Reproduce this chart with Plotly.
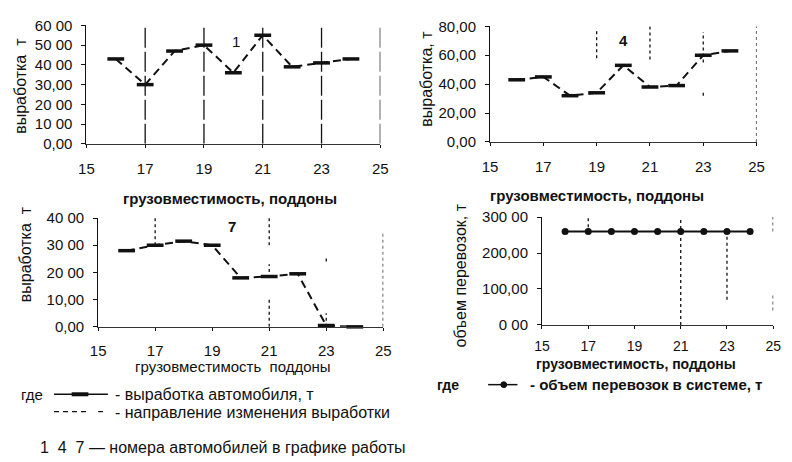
import plotly.graph_objects as go

# ---------------- data ----------------
capacity = [16, 17, 18, 19, 20, 21, 22, 23, 24]
output_car1 = [43, 30, 47, 50, 36, 55, 39, 41, 43]
output_car4 = [43, 45, 32, 34, 53, 38, 39, 60, 63]
output_car7 = [28, 30, 31.5, 30, 18, 18.5, 19.5, 0.5, 0]
volume_system = [260, 260, 260, 260, 260, 260, 260, 260, 260]

x_ticks = [15, 17, 19, 21, 23, 25]

yticks_1 = [0, 10, 20, 30, 40, 50, 60]
ytext_1 = ["0,00", "10 00", "20 00", "30,00", "40 00", "50 00", "60 00"]
yticks_4 = [0, 20, 40, 60, 80]
ytext_4 = ["0,00", "20,00", "40,00", "60,00", "80,00"]
yticks_7 = [0, 10, 20, 30, 40]
ytext_7 = ["0,00", "10,00", "20 00", "30 00", "40 00"]
yticks_v = [0, 100, 200, 300]
ytext_v = ["0 00", "100,00", "200,00", "300 00"]

# direction-of-change guide segments: (x, y_from, y_to)
guides_1 = [(17, 0, 60), (19, 0, 60), (21, 0, 60), (23, 0, 60), (25, 0, 60)]
guides_4 = [(19, 58, 78), (21, 57, 80), (23, 55, 76), (23, 32, 34), (25, 0, 80)]
guides_7 = [(17, 30, 40), (21, 30, 40), (21, 18, 23), (21, 0, 10),
            (23, 24, 26), (23, 0, 5), (25, 0, 35)]
guides_v = [(17, 255, 300), (21, 0, 300), (23, 70, 260), (25, 260, 300), (25, 40, 90)]

car_labels = ["1", "4", "7"]
car_label_x = [20.1, 20.0, 19.7]
car_label_y = [52, 70, 37]

# ---------------- figure ----------------
FONT = "Liberation Sans, Arial, sans-serif"
INK = "#111111"

fig = go.Figure()


def guide_trace(guides, xa, ya, dash):
    xs, ys = [], []
    for gx, g0, g1 in guides:
        xs += [gx, gx, None]
        ys += [g0, g1, None]
    return go.Scatter(x=xs, y=ys, mode="lines", xaxis=xa, yaxis=ya,
                      line=dict(color=INK, width=1.3, dash=dash),
                      hoverinfo="skip", showlegend=False)


def output_trace(vals, xa, ya):
    return go.Scatter(x=capacity, y=vals, mode="lines+markers", xaxis=xa, yaxis=ya,
                      line=dict(color=INK, width=2, dash="8px,5px"),
                      marker=dict(symbol="line-ew-open", size=12,
                                  line=dict(color=INK, width=3.5)),
                      cliponaxis=False, showlegend=False)


fig.add_trace(guide_trace(guides_1, "x", "y", "20px,4px"))
fig.add_trace(output_trace(output_car1, "x", "y"))
fig.add_trace(guide_trace(guides_4, "x2", "y2", "dot"))
fig.add_trace(output_trace(output_car4, "x2", "y2"))
fig.add_trace(guide_trace(guides_7, "x3", "y3", "dot"))
fig.add_trace(output_trace(output_car7, "x3", "y3"))
fig.add_trace(guide_trace(guides_v, "x4", "y4", "dot"))
fig.add_trace(go.Scatter(x=capacity, y=volume_system, mode="lines+markers",
                         xaxis="x4", yaxis="y4",
                         line=dict(color=INK, width=2),
                         marker=dict(symbol="circle", size=7, color=INK),
                         cliponaxis=False, showlegend=False))

W, H = 792, 462


def px(v):
    return v / W


def py(v):
    return 1 - v / H


panels = {
    # name: (x0, x1, ybottom, ytop in px, yrange, ticks, text, xtick size, standoff)
    "1": (80, 380, 140, 17, [0, 60], yticks_1, ytext_1, 15, 8),
    "2": (492, 764, 138, 18, [0, 80], yticks_4, ytext_4, 15, 8),
    "3": (92, 383, 330, 217, [0, 40], yticks_7, ytext_7, 15, 7),
    "4": (545, 781, 328, 216, [0, 300], yticks_v, ytext_v, 14, 5),
}

layout = dict(width=W, height=H, margin=dict(l=0, r=0, t=0, b=0),
              paper_bgcolor="white", plot_bgcolor="white",
              font=dict(family=FONT, color=INK), showlegend=False)

for k, (x0, x1, yb, yt, yr, tv, tt, xfs, xso) in panels.items():
    sx = "" if k == "1" else k
    layout["xaxis" + sx] = dict(domain=[px(x0), px(x1)], range=[15, 25],
                                anchor="y" + sx, tickvals=x_ticks,
                                ticks="outside", ticklen=3, tickcolor=INK,
                                showline=True, linecolor="#333333", linewidth=1,
                                showgrid=False, zeroline=False,
                                ticklabelstandoff=xso,
                                tickfont=dict(size=xfs, family=FONT, color=INK))
    layout["yaxis" + sx] = dict(domain=[py(yb), py(yt)], range=yr,
                                anchor="x" + sx, tickvals=tv, ticktext=tt,
                                ticks="outside", ticklen=4, tickcolor=INK,
                                showline=True, linecolor=INK, linewidth=1,
                                showgrid=False, zeroline=False,
                                ticklabelstandoff=6,
                                tickfont=dict(size=15, family=FONT, color=INK))

fig.update_layout(**layout)

ann = []


def text(x, y, s, size=13, angle=0, anchor="center", bold=False):
    ann.append(dict(x=px(x), y=py(y), xref="paper", yref="paper",
                    text=(f"<b>{s}</b>" if bold else s),
                    showarrow=False, textangle=angle, xanchor=anchor, yanchor="middle",
                    borderpad=0,
                    font=dict(size=size, family=FONT, color=INK)))


# axis titles
text(227, 197, "грузовместимость, поддоны", 15, bold=True)
text(601, 194, "грузовместимость, поддоны", 15, bold=True)
text(230, 371, "грузовместимость  поддоны", 15)
text(641, 369, "грузовместимость, поддоны", 14, bold=True)
text(12, 80, "выработка  т", 16, angle=-90)
text(427, 72, "выработка, т", 16, angle=-90)
text(18, 255, "выработка  т", 16, angle=-90)
text(462, 277, "объем перевозок, т", 16, angle=-90)

# car numbers inside panels
for i, (xa, ya) in enumerate([("x", "y"), ("x2", "y2"), ("x3", "y3")]):
    lab = car_labels[i] if i == 0 else "<b>" + car_labels[i] + "</b>"
    ann.append(dict(x=car_label_x[i], y=car_label_y[i], xref=xa, yref=ya, text=lab,
                    showarrow=False, font=dict(size=15, family=FONT, color=INK)))

# key / legend text
text(12, 400, "где", 15, anchor="left")
text(108, 400, "- выработка автомобиля, т", 16, anchor="left")
text(108, 419, "- направление изменения выработки", 16, anchor="left")
text(32, 455, "1  4  7 — номера автомобилей в графике работы", 16, anchor="left")
text(437, 390, "где", 14, anchor="left", bold=True)
text(532, 390, "- объем перевозок в системе, т", 15, anchor="left", bold=True)

fig.update_layout(annotations=ann)

# legend sample glyphs
shapes = [
    dict(type="line", xref="paper", yref="paper", x0=px(47), x1=px(102), y0=py(400), y1=py(400),
         line=dict(color=INK, width=1.5)),
    dict(type="line", xref="paper", yref="paper", x0=px(65), x1=px(82), y0=py(400), y1=py(400),
         line=dict(color=INK, width=4)),
    dict(type="line", xref="paper", yref="paper", x0=px(47), x1=px(80), y0=py(418), y1=py(418),
         line=dict(color=INK, width=1.2, dash="5px,4px")),
    dict(type="line", xref="paper", yref="paper", x0=px(92), x1=px(97), y0=py(418), y1=py(418),
         line=dict(color=INK, width=1.2)),
    dict(type="line", xref="paper", yref="paper", x0=px(490), x1=px(520), y0=py(390), y1=py(390),
         line=dict(color=INK, width=1.5)),
    dict(type="circle", xref="paper", yref="paper", x0=px(503), x1=px(509), y0=py(387), y1=py(393),
         fillcolor=INK, line=dict(color=INK, width=1)),
]
fig.update_layout(shapes=shapes)

fig.write_html("out.html")
